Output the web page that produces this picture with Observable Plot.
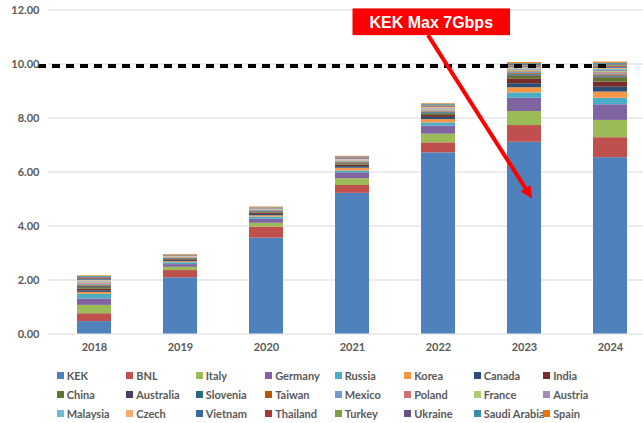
<!DOCTYPE html>
<html>
<head>
<meta charset="utf-8">
<script src="https://cdn.jsdelivr.net/npm/d3@7"></script>
<script src="https://cdn.jsdelivr.net/npm/@observablehq/plot@0.6"></script>
<style>
  html, body { margin: 0; padding: 0; background: #fff; }
  #wrap { width: 643px; height: 423px; position: relative; overflow: hidden; font-family: Lato, "Open Sans", sans-serif; }
  #legend { position: relative; width: 643px; height: 63px; }
  .li { position: absolute; height: 19px; display: flex; align-items: center; font-size: 11px; font-weight: 700; color: #595959; white-space: nowrap; }
  .sw { width: 7px; height: 7px; margin-right: 3px; flex: none; }
</style>
</head>
<body>
<div id="wrap"><div id="chart"></div><div id="legend"></div></div>
<script>
const years = ["2018", "2019", "2020", "2021", "2022", "2023", "2024"];
const seriesNames = ["KEK", "BNL", "Italy", "Germany", "Russia", "Korea", "Canada", "India",
  "China", "Australia", "Slovenia", "Taiwan", "Mexico", "Poland", "France", "Austria",
  "Malaysia", "Czech", "Vietnam", "Thailand", "Turkey", "Ukraine", "Saudi Arabia", "Spain"];
const seriesColors = ["#4F81BD", "#C0504D", "#9BBB59", "#8064A2", "#4BACC6", "#F79646", "#2C4D75", "#772C2A",
  "#5F7530", "#4D3B62", "#276A7C", "#B65708", "#729ACA", "#CD7371", "#AFC97A", "#A08BB6",
  "#6FBDD1", "#F9AB6B", "#3A679C", "#9F3B38", "#7F9C40", "#664F83", "#358EA6", "#E8730C"];

// values per series, 2018 .. 2024
const KEK         = [0.46, 2.08, 3.55, 5.21, 6.71, 7.10, 6.53];
const BNL         = [0.29, 0.27, 0.41, 0.29, 0.37, 0.62, 0.74];
const Italy       = [0.31, 0.12, 0.14, 0.25, 0.32, 0.52, 0.64];
const Germany     = [0.24, 0.10, 0.15, 0.22, 0.30, 0.49, 0.58];
const Russia      = [0.17, 0.07, 0.08, 0.07, 0.12, 0.20, 0.24];
const Korea       = [0.07, 0.04, 0.05, 0.10, 0.12, 0.19, 0.23];
const Canada      = [0.06, 0.04, 0.05, 0.06, 0.08, 0.15, 0.18];
const India       = [0.06, 0.03, 0.05, 0.05, 0.07, 0.18, 0.19];
const China       = [0.06, 0.03, 0.04, 0.05, 0.06, 0.10, 0.15];
const Australia   = [0.03, 0.01, 0.02, 0.02, 0.03, 0.04, 0.04];
const Slovenia    = [0.03, 0.01, 0.01, 0.02, 0.03, 0.03, 0.04];
const Taiwan      = [0.03, 0.01, 0.01, 0.02, 0.02, 0.03, 0.04];
const Mexico      = [0.03, 0.01, 0.02, 0.02, 0.03, 0.04, 0.04];
const Poland      = [0.03, 0.01, 0.01, 0.02, 0.03, 0.03, 0.04];
const France      = [0.03, 0.01, 0.01, 0.02, 0.02, 0.04, 0.04];
const Austria     = [0.03, 0.01, 0.01, 0.02, 0.03, 0.03, 0.04];
const Malaysia    = [0.03, 0.01, 0.01, 0.01, 0.02, 0.03, 0.04];
const Czech       = [0.03, 0.01, 0.01, 0.02, 0.03, 0.04, 0.04];
const Vietnam     = [0.03, 0.01, 0.01, 0.02, 0.02, 0.03, 0.04];
const Thailand    = [0.03, 0.01, 0.01, 0.02, 0.03, 0.03, 0.04];
const Turkey      = [0.02, 0.01, 0.01, 0.01, 0.02, 0.03, 0.04];
const Ukraine     = [0.03, 0.01, 0.01, 0.02, 0.02, 0.03, 0.03];
const SaudiArabia = [0.03, 0.01, 0.01, 0.02, 0.03, 0.03, 0.04];
const Spain       = [0.02, 0.02, 0.02, 0.02, 0.02, 0.04, 0.04];

const seriesValues = [KEK, BNL, Italy, Germany, Russia, Korea, Canada, India,
  China, Australia, Slovenia, Taiwan, Mexico, Poland, France, Austria,
  Malaysia, Czech, Vietnam, Thailand, Turkey, Ukraine, SaudiArabia, Spain];

const yTicks = [0, 2, 4, 6, 8, 10, 12];
const kekMaxLine = 9.93;
const annotationText = "KEK Max 7Gbps";

const data = seriesNames.flatMap((s, i) =>
  years.map((y, j) => ({year: y, series: s, value: seriesValues[i][j]})));

const chart = Plot.plot({
  width: 643,
  height: 360,
  marginLeft: 48,
  marginRight: 0,
  marginTop: 9.5,
  marginBottom: 26.5,
  style: {fontFamily: "Lato, 'Open Sans', sans-serif", fontSize: "11px", fontWeight: 700, background: "white", overflow: "visible"},
  x: {type: "band", domain: years, range: [48.1, 655.7], paddingInner: 0.6, paddingOuter: 0.3, label: null},
  y: {domain: [0, 12], range: [333.5, 9.5], label: null},
  color: {domain: seriesNames, range: seriesColors},
  marks: [
    Plot.ruleY(yTicks, {stroke: "#D9D9D9", strokeWidth: 1}),
    Plot.barY(data, {x: "year", y: "value", fill: "series", z: "series"}),
    Plot.ruleY([kekMaxLine], {stroke: "black", strokeWidth: 4, strokeDasharray: "8,6", insetLeft: -10, insetRight: 31}),
    Plot.axisY({ticks: yTicks, tickSize: 0, tickPadding: 9, tickFormat: d => d.toFixed(2), fill: "#595959", label: null}),
    Plot.axisX({tickSize: 0, tickPadding: 9, fill: "#595959", label: null})
  ]
});
document.getElementById("chart").appendChild(chart);

// annotation positioned through the chart's scales
const xs = chart.scale("x"), ys = chart.scale("y");
const cx = v => xs.apply(v) + xs.bandwidth / 2;
const svg = d3.select(chart);
const g = svg.append("g");
const x1 = cx("2022") - 10, y1 = ys.apply(11.05);
const x2 = cx("2023") + 8, y2 = ys.apply(5.0);
const ang = Math.atan2(y2 - y1, x2 - x1);
const headLen = 12, headW = 6;
const bx = x2 - headLen * Math.cos(ang), by = y2 - headLen * Math.sin(ang);
g.append("line").attr("x1", x1).attr("y1", y1).attr("x2", bx).attr("y2", by)
  .attr("stroke", "#FF0000").attr("stroke-width", 4);
g.append("path")
  .attr("d", `M${x2},${y2} L${bx + headW * Math.sin(ang)},${by - headW * Math.cos(ang)} L${bx - headW * Math.sin(ang)},${by + headW * Math.cos(ang)} Z`)
  .attr("fill", "#FF0000");
const boxL = cx("2022") - 85.5, boxR = cx("2022") + 72;
const boxT = ys.apply(12.04), boxB = ys.apply(11.05);
g.append("rect").attr("x", boxL).attr("y", boxT).attr("width", boxR - boxL).attr("height", boxB - boxT)
  .attr("fill", "#FF0000");
g.append("text").attr("x", (boxL + boxR) / 2).attr("y", (boxT + boxB) / 2).attr("dy", "0.36em")
  .attr("text-anchor", "middle").attr("fill", "white")
  .style("font-family", "'Liberation Sans', Arial, sans-serif").style("font-size", "16px").style("font-weight", "700")
  .text(annotationText);

// legend (HTML, below the SVG)
const legend = document.getElementById("legend");
seriesNames.forEach((s, i) => {
  const row = Math.floor(i / 8), col = i % 8;
  const item = document.createElement("div");
  item.className = "li";
  item.style.left = (56.7 + col * 69.5) + "px";
  item.style.top = (5.5 + row * 19) + "px";
  const sw = document.createElement("span");
  sw.className = "sw";
  sw.style.background = seriesColors[i];
  item.appendChild(sw);
  item.appendChild(document.createTextNode(s));
  legend.appendChild(item);
});
</script>
</body>
</html>
